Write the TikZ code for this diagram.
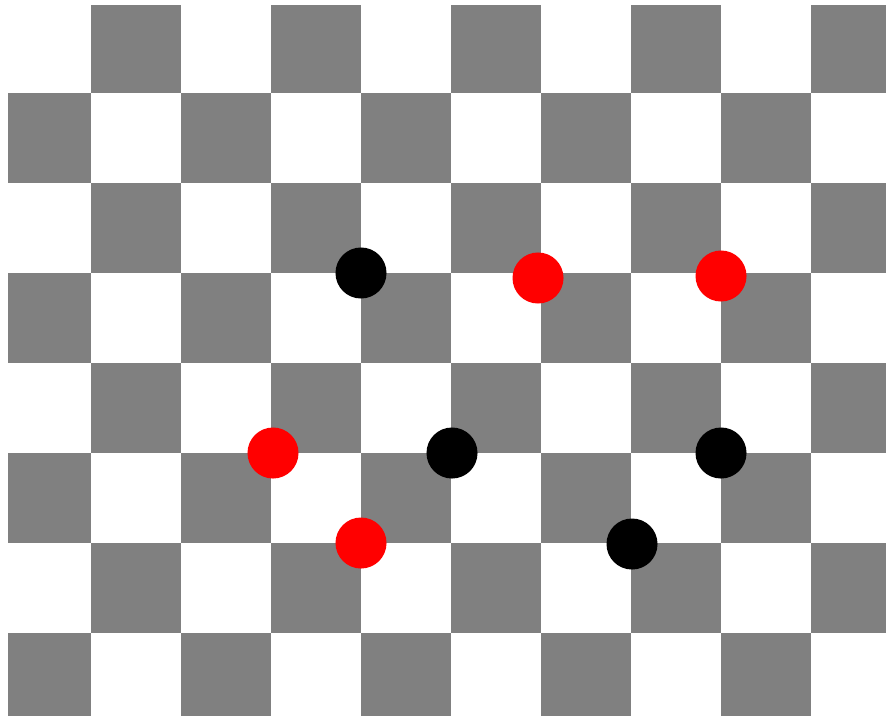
\documentclass[tikz,border=0pt]{standalone}
\usetikzlibrary{positioning}
\begin{document}
\begin{tikzpicture}[
    x=0.01cm, y=-0.01cm,
    square/.style={fill=gray},
    blackpiece/.style={circle, fill=black, inner sep=0pt, minimum size=0.51cm},
    redpiece/.style={circle, fill=red, inner sep=0pt, minimum size=0.51cm}
]
\fill[white] (0,0) rectangle (886,715);

% board
\begin{scope}
\clip (8,5) rectangle (886,715);
\foreach \j in {0,...,7}
  \foreach \i in {0,...,9} {
    \pgfmathtruncatemacro{\odd}{mod(\i+\j,2)}
    \ifnum\odd=1 \fill[square] (1+90*\i,3+90*\j) rectangle +(90,90); \fi
  }
\end{scope}

% pieces
\node[blackpiece] (black1) at (361,273) {};
\node[blackpiece] (black2) at (452,453) {};
\node[blackpiece] (black3) at (721,453) {};
\node[blackpiece] (black4) at (632,544) {};

\node[redpiece] (red1) at (538,278) {};
\node[redpiece] (red2) at (721,276) {};
\node[redpiece] (red3) at (273,453) {};
\node[redpiece] (red4) at (361,543) {};
\end{tikzpicture}
\end{document}
